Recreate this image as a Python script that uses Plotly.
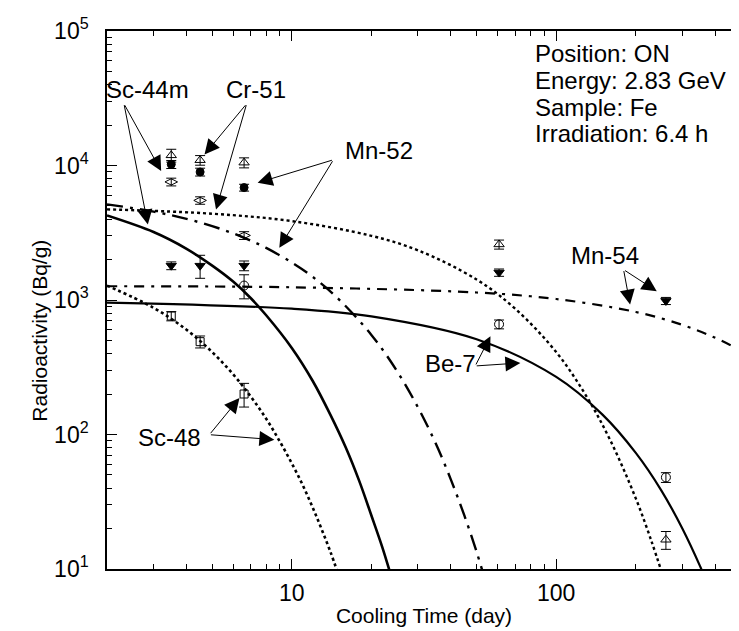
import numpy as np
import plotly.graph_objects as go

# ---------------- data ----------------
# calculated curves (cooling time in days, activity Bq/g)
sc44m_t = [2, 3, 4, 5, 6, 7, 8, 10, 12, 14, 16, 18, 20, 22, 23.5]
sc44m_a = [4250, 3200, 2400, 1800, 1370, 1030, 770, 440, 250, 140, 80, 45, 25, 14.5, 9.5]

sc48_t = [2, 3, 4, 5, 6, 7, 8, 9, 10, 11, 12, 13, 14, 15]
sc48_a = [1280, 875, 600, 410, 280, 191, 131, 89, 61, 42, 28.6, 19.5, 13.4, 9.1]

mn52_t = [2, 3, 4, 5, 6, 7, 8, 10, 12, 15, 20, 25, 30, 35, 40, 45, 50, 53]
mn52_a = [5140, 4540, 4010, 3540, 3130, 2760, 2440, 1900, 1485, 1020, 550, 296, 159, 86, 46, 24.8, 13.4, 9.2]

cr51_t = [2, 5, 10, 20, 30, 50, 70, 100, 130, 160, 200, 230, 250]
cr51_a = [4720, 4380, 3860, 3000, 2340, 1420, 860, 410, 193, 91, 33.5, 15.8, 9.6]

be7_t = [2, 10, 20, 50, 100, 150, 200, 250, 300, 350, 360]
be7_a = [957, 862, 756, 511, 268, 140, 73, 38.3, 20, 10.5, 9.2]

mn54_t = [2, 10, 50, 100, 200, 300, 400, 500, 550]
mn54_a = [1265, 1243, 1137, 1017, 815, 653, 523, 419, 375]

# measured points
cr51_mt = [3.5, 4.5, 6.6, 60.8, 260]
cr51_ma = [11900, 10950, 10500, 2590, 16.5]
cr51_me = [1300, 900, 900, 200, 2.5]

mn52_mt = [3.5, 4.5, 6.6]
mn52_ma = [10200, 8950, 6850]
mn52_me = [700, 600, 400]

sc44m_mt = [3.5, 4.5, 6.6]
sc44m_ma = [7550, 5500, 3020]
sc44m_me = [500, 350, 200]

mn54_mt = [3.5, 4.5, 6.6, 60.8, 260]
mn54_ma = [1800, 1800, 1800, 1600, 985]
mn54_me = [120, 350, 150, 100, 60]

be7_mt = [6.6, 60.8, 260]
be7_ma = [1280, 660, 48]
be7_me = [260, 50, 4]

sc48_mt = [3.5, 4.5, 6.6]
sc48_ma = [760, 490, 200]
sc48_me = [60, 50, 40]

# labels: (text, text centre (day, Bq/g), arrow origin (day, Bq/g), arrow tips [(day, Bq/g), ...])
labels = [
    ("Sc-44m", (2.855, 36580), (2.318, 28790), [(3.205, 9085), (2.855, 3639)]),
    ("Cr-51", (7.30, 36580), (6.75, 28790), [(4.675, 12070), (5.17, 4706)]),
    ("Mn-52", (21.44, 12870), (14.37, 11030), [(7.425, 7433), (8.97, 2441)]),
    ("Mn-54", (152.8, 2128), (179.8, 1683), [(190.3, 924), (240.1, 1163)]),
    ("Be-7", (39.7, 334.6), (49.4, 323.3), [(56.4, 538), (73.2, 340.4)]),
    ("Sc-48", (3.44, 94.2), (4.88, 99.7), [(6.34, 186.9), (8.59, 91.5)]),
]

info_lines = ["Position: ON", "Energy: 2.83 GeV", "Sample: Fe", "Irradiation: 6.4 h"]

# ---------------- figure ----------------
FONT = "Arial, Liberation Sans, sans-serif"
fig = go.Figure()

def curve(t, a, dash, width):
    fig.add_trace(go.Scatter(x=t, y=a, mode="lines", line_shape="spline",
                             line=dict(color="black", width=width, dash=dash),
                             showlegend=False, hoverinfo="skip"))

curve(sc44m_t, sc44m_a, "solid", 2.6)
curve(sc48_t, sc48_a, "dot", 2.6)
curve(mn52_t, mn52_a, "16px,7px,3px,7px", 2.4)
curve(cr51_t, cr51_a, "dot", 2.4)
curve(be7_t, be7_a, "solid", 2.2)
curve(mn54_t, mn54_a, "10px,7px,3px,7px", 2.2)

def points(t, a, e, symbol, size):
    fig.add_trace(go.Scatter(x=t, y=a, mode="markers",
                             marker=dict(symbol=symbol, size=size, color="black",
                                         line=dict(color="black", width=1)),
                             error_y=dict(type="data", array=e, visible=True,
                                          color="black", thickness=1, width=5),
                             showlegend=False))

points(cr51_mt, cr51_ma, cr51_me, "triangle-up-open", 9)
points(mn52_mt, mn52_ma, mn52_me, "circle", 8)
points(sc44m_mt, sc44m_ma, sc44m_me, "diamond-wide-open", 9)
points(mn54_mt, mn54_ma, mn54_me, "triangle-down", 9)
points(be7_mt, be7_ma, be7_me, "circle-open", 9)
points(sc48_mt, sc48_ma, sc48_me, "square-open", 8)

annotations = []
for text, (tx, ty), (ox, oy), tips in labels:
    annotations.append(dict(
        x=np.log10(tx), y=np.log10(ty), xref="x", yref="y", showarrow=False,
        text=text, font=dict(family=FONT, size=24, color="black")))
    for (px, py) in tips:
        annotations.append(dict(
            x=np.log10(px), y=np.log10(py), xref="x", yref="y",
            ax=np.log10(ox), ay=np.log10(oy), axref="x", ayref="y",
            text="", showarrow=True, arrowhead=2, arrowsize=3.0,
            arrowwidth=1, arrowcolor="black"))
for i, line in enumerate(info_lines):
    annotations.append(dict(
        x=0.6714, y=0.958 - 0.0497 * i, xref="paper", yref="paper",
        xanchor="left", yanchor="middle",
        text=line, showarrow=False, align="left",
        font=dict(family=FONT, size=24, color="black")))
# y-axis title (sits a little below the plot centre in the original)
annotations.append(dict(
    x=-0.1274, y=0.4424, xref="paper", yref="paper", showarrow=False,
    text="Radioactivity (Bq/g)", textangle=-90,
    font=dict(family=FONT, size=21, color="black")))

major_x = [10, 100]
minor_x = [m * 10 ** k for k in range(0, 3) for m in range(2, 10)]
major_y = [10, 100, 1000, 10000, 100000]
minor_y = [m * 10 ** k for k in range(1, 5) for m in range(2, 10)]

axis_common = dict(showline=True, linecolor="black", linewidth=1.5, mirror="ticks",
                   ticks="inside", ticklen=10, tickwidth=1, tickcolor="black",
                   showgrid=False, zeroline=False,
                   tickfont=dict(family=FONT, size=23, color="black"))

fig.update_xaxes(type="log", range=[np.log10(2), np.log10(500)],
                 tickmode="array", tickvals=major_x, ticktext=["10", "100"],
                 ticklabelstandoff=3,
                 minor=dict(tickmode="array", tickvals=minor_x, ticks="inside",
                            ticklen=5, tickcolor="black", showgrid=False),
                 title=dict(text="Cooling Time (day)", font=dict(family=FONT, size=21, color="black"),
                            standoff=3),
                 **axis_common)
fig.update_yaxes(type="log", range=[1, 5],
                 tickmode="array", tickvals=major_y,
                 ticktext=["10<sup>1</sup>", "10<sup>2</sup>", "10<sup>3</sup>",
                           "10<sup>4</sup>", "10<sup>5</sup>"],
                 ticklabelstandoff=12,
                 minor=dict(tickmode="array", tickvals=minor_y, ticks="inside",
                            ticklen=5, tickcolor="black", showgrid=False),
                 **axis_common)

fig.update_layout(width=739, height=631, margin=dict(l=99, r=4, t=23, b=70),
                  plot_bgcolor="white", paper_bgcolor="white",
                  annotations=annotations, showlegend=False)

fig.write_html("out.html")
